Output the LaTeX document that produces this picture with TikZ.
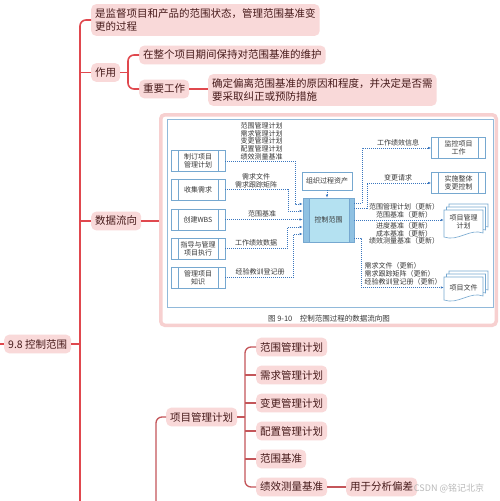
\documentclass[tikz,border=0pt]{standalone}
\usepackage{fontspec}
\setmainfont{Noto Sans CJK SC}
\definecolor{mmred}{RGB}{224, 72, 78}
\definecolor{mmdark}{RGB}{196, 86, 90}
\definecolor{mmpink}{RGB}{249, 217, 217}
\definecolor{mmframe}{RGB}{247, 208, 208}
\definecolor{mmtext}{RGB}{70, 26, 26}
\definecolor{dfblue}{RGB}{58, 118, 190}
\definecolor{dfbox}{RGB}{118, 168, 208}
\definecolor{dfcyan}{RGB}{180, 225, 241}
\definecolor{dftext}{RGB}{55, 55, 55}
\usetikzlibrary{arrows.meta, positioning, calc}
\newcommand{\dffont}{\fontsize{7}{7.9}\selectfont}

\tikzset{
  topic/.style={fill=mmpink, rounded corners=5pt, text=mmtext, font=\fontsize{10.5}{13}\selectfont,
    inner xsep=4pt, inner ysep=4.5pt, anchor=west, align=left},
  branch/.style={draw=mmred, line width=1.6pt, rounded corners=6pt},
  subbranch/.style={draw=mmdark, line width=1.3pt, rounded corners=6pt},
  proc/.style={draw=dfbox, fill=white, line width=0.6pt, minimum width=54pt, minimum height=21pt,
    inner sep=0pt, align=center, font=\dffont, text=dftext,
    path picture={\draw[dfbox, line width=0.6pt]
      ([xshift=7pt]path picture bounding box.north west) -- ([xshift=7pt]path picture bounding box.south west)
      ([xshift=-7pt]path picture bounding box.north east) -- ([xshift=-7pt]path picture bounding box.south east);}},
  flow/.style={draw=dfblue, line width=0.6pt, dash pattern=on 1pt off 1pt, -{Latex[length=3pt, width=2.4pt]}},
  lbl/.style={font=\dffont, text=dftext, align=center, inner sep=0.5pt},
  sheet/.style={draw=dfbox, fill=white, line width=0.6pt},
}

\begin{document}
\begin{tikzpicture}[x=1pt, y=-1pt]
  \useasboundingbox[fill=white] (0,0) rectangle (499,501);

  % root and trunk
  \coordinate (edge) at (0,344);
  \coordinate (trunkend) at (80,501);
  \node[topic] (root) at (4,344) {9.8 控制范围};
  \draw[branch] (edge) -- (root.west);
  \draw[branch] (root.east) -- (root.east -| trunkend);

  % definition
  \node[topic] (def) at (91,20) {是监督项目和产品的范围状态，管理范围基准变\\更的过程};
  \draw[branch] (def.west) -| (trunkend);

  % role
  \node[topic] (zuoyong) at (91,72.5) {作用};
  \coordinate (zyj) at (128,72.5);
  \node[topic] (weihu) at (139,55) {在整个项目期间保持对范围基准的维护};
  \node[topic] (zhongyao) at (139,89) {重要工作};
  \node[topic] (queding) at (208,90) {确定偏离范围基准的原因和程度，并决定是否需\\要采取纠正或预防措施};
  \draw[branch] (zuoyong.west) -- (zuoyong.west -| trunkend);
  \draw[branch] (zuoyong.east) -- (zyj);
  \draw[branch] (weihu.west) -| (zyj) |- (zhongyao.west);
  \draw[branch] (zhongyao.east) -- (zhongyao.east -| queding.west);

  % data flow figure
  \node[topic] (shuju) at (91,221) {数据流向};
  \node[draw=mmframe, line width=3.5pt, fill=white, rounded corners=4pt,
        minimum width=335.5pt, minimum height=210.5pt] (fig) at (328.5,220) {};
  \draw[branch] (shuju.west) -- (shuju.west -| trunkend);
  \draw[branch] (shuju.east) -- (shuju.east -| fig.west);
  \draw[dfbox!80, line width=0.6pt] (167,119) rectangle (493,307);

  \node[proc] (zhiding) at (198,161) {制订项目\\管理计划};
  \node[proc] (shouji) at (198,189.5) {收集需求};
  \node[proc] (wbs) at (198,219.5) {创建WBS};
  \node[proc] (zhidao) at (198,248.5) {指导与管理\\项目执行};
  \node[proc] (zhishi) at (198,277.5) {管理项目\\知识};
  \node[draw=dfbox, fill=white, line width=0.6pt, minimum width=50pt, minimum height=18pt,
        font=\dffont, text=dftext] (zuzhi) at (327,181) {组织过程资产};
  \node[proc, fill=dfcyan, minimum width=51pt, minimum height=44pt,
        path picture={\fill[dfcyan!70!dfblue] (path picture bounding box.north west) rectangle ([xshift=6pt]path picture bounding box.south west)
          ([xshift=-5pt]path picture bounding box.north east) rectangle (path picture bounding box.south east);
          \draw[dfbox, line width=0.6pt] ([xshift=6pt]path picture bounding box.north west) -- ([xshift=6pt]path picture bounding box.south west)
          ([xshift=-5pt]path picture bounding box.north east) -- ([xshift=-5pt]path picture bounding box.south east);}]
        (kongzhi) at (328.5,220) {控制范围};
  \node[proc] (jiankong) at (458.5,148) {监控项目\\工作};
  \node[proc] (shishi) at (458.5,183) {实施整体\\变更控制};

  % document stacks
  \filldraw[sheet] (449,204) -- (488,204) -- (488,227) .. controls (475,222) and (463,236) .. (449,231) -- cycle;
  \filldraw[sheet] (446.5,207) -- (485.5,207) -- (485.5,230) .. controls (472.5,225) and (460.5,239) .. (446.5,234) -- cycle;
  \filldraw[sheet] (444,210) -- (483,210) -- (483,233) .. controls (470,228) and (458,242) .. (444,237) -- cycle;
  \node[lbl, minimum width=39pt] (plan) at (463.5,221.5) {项目管理\\计划};
  \filldraw[sheet] (449,271) -- (488,271) -- (488,290) .. controls (475,285) and (463,299) .. (449,294) -- cycle;
  \filldraw[sheet] (446.5,274) -- (485.5,274) -- (485.5,293) .. controls (472.5,288) and (460.5,302) .. (446.5,297) -- cycle;
  \filldraw[sheet] (444,277) -- (483,277) -- (483,296) .. controls (470,291) and (458,305) .. (444,300) -- cycle;
  \node[lbl, minimum width=39pt] (files) at (463.5,287.5) {项目文件};

  % inputs
  \draw[flow] (zhiding.east) -- ++(70,0) |- ([yshift=16pt]kongzhi.west);
  \draw[flow] (shouji.east) -- ++(63,0) |- ([yshift=9pt]kongzhi.west);
  \draw[flow] (wbs.east) -- (wbs.east -| kongzhi.west);
  \draw[flow] (zhidao.east) -- ++(62,0) |- ([yshift=-7pt]kongzhi.west);
  \draw[flow] (zhishi.east) -- ++(68,0) |- ([yshift=-14pt]kongzhi.west);
  \draw[flow] (zuzhi.south) -- (zuzhi.south |- kongzhi.north);
  \node[lbl, anchor=south] (in1) at (261.5,161) {范围管理计划\\需求管理计划\\变更管理计划\\配置管理计划\\绩效测量基准};
  \node[lbl, anchor=south] (in2) at (256,188.5) {需求文件\\需求跟踪矩阵};
  \node[lbl, anchor=south] (in3) at (262,218) {范围基准};
  \node[lbl, anchor=south] (in4) at (256,247) {工作绩效数据};
  \node[lbl, anchor=south] (in5) at (260,276) {经验教训登记册};

  % outputs
  \draw[flow] ([yshift=17pt]kongzhi.east) -- ++(8,0) |- (jiankong.west);
  \draw[flow] ([yshift=12pt]kongzhi.east) -- ++(13,0) |- (shishi.west);
  \draw[flow] (kongzhi.east) -- (kongzhi.east -| plan.west);
  \draw[flow] ([yshift=-18pt]kongzhi.east) -- ++(7,0) |- (files.west);
  \node[lbl, anchor=south] (out1) at (398,146.5) {工作绩效信息};
  \node[lbl, anchor=south] (out2) at (398,181.5) {变更请求};
  \node[lbl, anchor=south] (out3) at (404,219) {范围管理计划（更新）\\范围基准（更新）};
  \node[lbl, anchor=north] (out4) at (404,221.5) {进度基准（更新）\\成本基准（更新）\\绩效测量基准（更新）};
  \node[lbl, anchor=south west, align=left] (out5) at (364,286) {需求文件（更新）\\需求跟踪矩阵（更新）\\经验教训登记册（更新）};
  \node[font=\fontsize{7.5}{9}\selectfont, text=dftext] (caption) at (329,319) {图 9-10\quad 控制范围过程的数据流向图};

  % project management plan
  \coordinate (inend) at (156,501);
  \coordinate (pmj) at (245,417);
  \node[topic] (pmp) at (166,417) {项目管理计划};
  \draw[subbranch] (pmp.west) -| (inend);
  \draw[subbranch] (pmp.east) -- (pmj);
  \node[topic] (fanwei) at (256,347) {范围管理计划};
  \node[topic] (xuqiu) at (256,375) {需求管理计划};
  \node[topic] (biangeng) at (256,403) {变更管理计划};
  \node[topic] (peizhi) at (256,431) {配置管理计划};
  \node[topic] (jizhun) at (256,459) {范围基准};
  \node[topic] (jixiao) at (256,487) {绩效测量基准};
  \node[topic] (fenxi) at (346,487) {用于分析偏差};
  \draw[subbranch] (fanwei.west) -| (pmj) |- (jixiao.west);
  \draw[subbranch] (xuqiu.west) -- (xuqiu.west -| pmj);
  \draw[subbranch] (biangeng.west) -- (biangeng.west -| pmj);
  \draw[subbranch] (peizhi.west) -- (peizhi.west -| pmj);
  \draw[subbranch] (jizhun.west) -- (jizhun.west -| pmj);
  \draw[subbranch] (jixiao.east) -- (fenxi.west);

  % watermark
  \node[font=\fontsize{9}{9}\selectfont, text=gray!55] (mark) at (449,488) {CSDN @铭记北京};
\end{tikzpicture}
\end{document}
